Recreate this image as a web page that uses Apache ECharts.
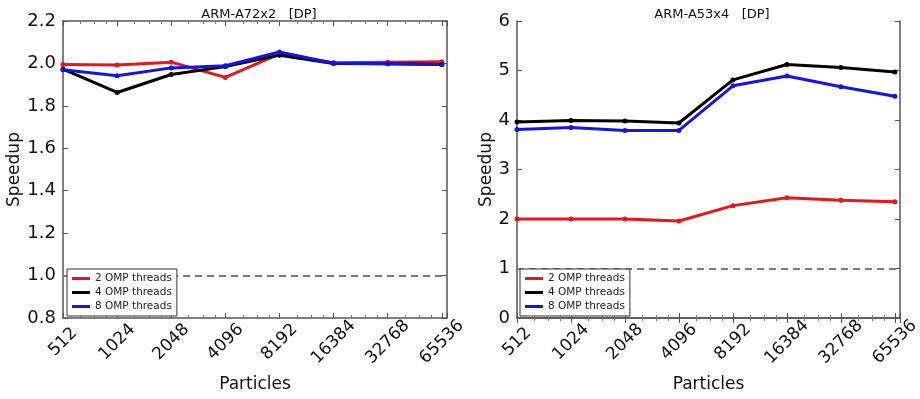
<!DOCTYPE html>
<html><head><meta charset="utf-8">
<script src="https://cdn.jsdelivr.net/npm/echarts@6/dist/echarts.min.js"></script>
<style>html,body{margin:0;padding:0;background:#fff}#c{width:920px;height:399px}</style>
</head><body><div id="c"></div>
<script>
const particles = [512, 1024, 2048, 4096, 8192, 16384, 32768, 65536];
const seriesNames = ['2 OMP threads', '4 OMP threads', '8 OMP threads'];
const titles = ['ARM-A72x2   [DP]', 'ARM-A53x4   [DP]'];
// Left: ARM-A72x2
const a72_2 = [1.995, 1.993, 2.006, 1.934, 2.045, 2.003, 2.006, 2.008];
const a72_4 = [1.973, 1.863, 1.948, 1.985, 2.039, 2.000, 1.998, 1.995];
const a72_8 = [1.970, 1.942, 1.979, 1.989, 2.054, 2.001, 1.998, 1.995];
// Right: ARM-A53x4
const a53_2 = [2.00, 2.00, 2.00, 1.96, 2.27, 2.43, 2.38, 2.35];
const a53_4 = [3.96, 3.99, 3.98, 3.94, 4.81, 5.12, 5.06, 4.97];
const a53_8 = [3.81, 3.85, 3.79, 3.79, 4.69, 4.89, 4.67, 4.48];
const leftYTicks = {min: 0.8, max: 2.2, interval: 0.2};
const rightYTicks = {min: 0, max: 6, interval: 1};
const baseline = 1;

const colors = ['#e8161b', '#000000', '#1414e8'];
const FONT = 'DejaVu Sans';
const chart = echarts.init(document.getElementById('c'), null, {renderer: 'canvas'});

const grids = [
  {left: 63, top: 21, width: 384, height: 297, outerBoundsMode: 'none', containLabel: false},
  {left: 517, top: 21, width: 383, height: 297, outerBoundsMode: 'none', containLabel: false}
];
const xMax = 70000;
const frameColor = '#555';
function xAxisMain(gi) {
  return {
    type: 'log', logBase: 2, gridIndex: gi, min: 512, max: xMax, interval: 1,
    name: 'Particles', nameLocation: 'middle', nameGap: 58,
    nameTextStyle: {fontFamily: FONT, fontSize: 17, color: '#111'},
    axisLine: {show: true, lineStyle: {color: frameColor, width: 1.5}},
    axisTick: {show: true, inside: true, length: 5, lineStyle: {color: frameColor}},
    minorTick: {show: true, splitNumber: 4, length: 3, lineStyle: {color: '#777'}},
    axisLabel: {rotate: 45, align: 'center', verticalAlign: 'middle', fontFamily: FONT, fontSize: 17, color: '#111', margin: 24,
      formatter: v => { const r = Math.round(v); return particles.indexOf(r) >= 0 ? String(r) : ''; }},
    splitLine: {show: false}
  };
}
function xAxisTop(gi) {
  return {
    type: 'log', logBase: 2, gridIndex: gi, min: 512, max: xMax, interval: 1, position: 'top',
    axisLine: {show: true, lineStyle: {color: frameColor, width: 1.5}},
    axisTick: {show: true, inside: true, length: 5, lineStyle: {color: frameColor}},
    minorTick: {show: true, splitNumber: 4, length: 3, lineStyle: {color: '#777'}},
    axisLabel: {show: false}, splitLine: {show: false}
  };
}
function yAxisMain(gi, t, dec) {
  return {
    type: 'value', gridIndex: gi, min: t.min, max: t.max, interval: t.interval,
    name: 'Speedup', nameLocation: 'middle', nameGap: gi === 0 ? 37 : 21,
    nameTextStyle: {fontFamily: FONT, fontSize: 17, color: '#111'},
    axisLine: {show: true, lineStyle: {color: frameColor, width: 1.5}},
    axisTick: {show: true, inside: true, length: 5, lineStyle: {color: frameColor}},
    axisLabel: {fontFamily: FONT, fontSize: 18, color: '#111', margin: 7,
      formatter: v => v.toFixed(dec)},
    splitLine: {show: false}
  };
}
function yAxisRight(gi, t) {
  return {
    type: 'value', gridIndex: gi, min: t.min, max: t.max, interval: t.interval, position: 'right',
    axisLine: {show: true, lineStyle: {color: frameColor, width: 1.5}},
    axisTick: {show: true, inside: true, length: 5, lineStyle: {color: frameColor}},
    axisLabel: {show: false}, splitLine: {show: false}
  };
}

function mkSeries(name, vals, xi, yi, color, withBase) {
  const s = {
    name, type: 'line', xAxisIndex: xi, yAxisIndex: yi,
    data: particles.map((p, i) => [p, vals[i]]),
    symbol: 'circle', symbolSize: 5, showSymbol: true,
    lineStyle: {color, width: 3}, itemStyle: {color},
    animation: false, z: 3
  };
  if (withBase) {
    s.markLine = {
      silent: true, symbol: 'none', animation: false, label: {show: false},
      lineStyle: {color: '#7a7a7a', type: [7, 5], width: 2},
      data: [{yAxis: baseline}]
    };
  }
  return s;
}

const legendCommon = {
  orient: 'vertical', itemWidth: 18, itemHeight: 3, itemGap: 3, icon: 'rect',
  backgroundColor: '#fff', borderColor: '#333', borderWidth: 1, padding: [4, 5, 4, 5],
  textStyle: {fontFamily: FONT, fontSize: 10.5, color: '#222'},
  data: seriesNames, selectedMode: false, z: 10
};

chart.setOption({
  animation: false,
  backgroundColor: '#fff',
  color: colors,
  title: [
    {text: titles[0], left: 254, top: 3, textAlign: 'center', textStyle: {fontFamily: FONT, fontSize: 13, fontWeight: 'normal', color: '#111'}},
    {text: titles[1], left: 707, top: 3, textAlign: 'center', textStyle: {fontFamily: FONT, fontSize: 13, fontWeight: 'normal', color: '#111'}}
  ],
  grid: grids,
  legend: [
    Object.assign({left: 67, top: 269}, legendCommon),
    Object.assign({left: 520, top: 269}, legendCommon)
  ],
  xAxis: [xAxisMain(0), xAxisTop(0), xAxisMain(1), xAxisTop(1)],
  yAxis: [yAxisMain(0, leftYTicks, 1), yAxisRight(0, leftYTicks), yAxisMain(1, rightYTicks, 0), yAxisRight(1, rightYTicks)],
  series: [
    mkSeries(seriesNames[0], a72_2, 0, 0, colors[0], true),
    mkSeries(seriesNames[1], a72_4, 0, 0, colors[1], false),
    mkSeries(seriesNames[2], a72_8, 0, 0, colors[2], false),
    mkSeries(seriesNames[0], a53_2, 2, 2, colors[0], true),
    mkSeries(seriesNames[1], a53_4, 2, 2, colors[1], false),
    mkSeries(seriesNames[2], a53_8, 2, 2, colors[2], false)
  ]
});
</script>
</body></html>
